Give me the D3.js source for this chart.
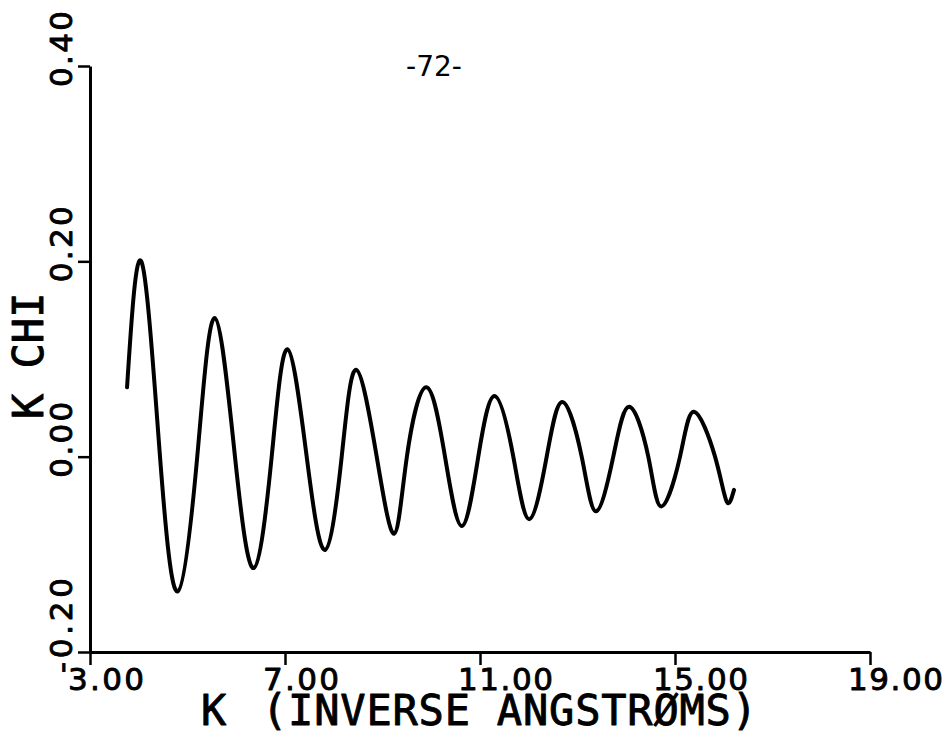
<!DOCTYPE html>
<html>
<head>
<meta charset="utf-8">
<script src="https://cdn.jsdelivr.net/npm/d3@7"></script>
<style>
  html, body { margin: 0; padding: 0; background: #fff; }
  svg { display: block; }
</style>
</head>
<body>
<svg id="chart" width="951" height="735"></svg>
<script>
// EXAFS signal k*chi(k): extrema and zero crossings of the oscillation
const kValues = [3.76, 4.06, 4.436, 4.80, 5.20, 5.56, 5.974, 6.36, 6.727, 7.05,
  7.445, 7.82, 8.163, 8.46, 8.881, 9.24, 9.50, 9.90, 10.282, 10.63,
  10.965, 11.30, 11.683, 12.01, 12.368, 12.69, 13.086, 13.38, 13.734, 14.06,
  14.452, 14.72, 15.103, 15.39, 15.821, 16.06, 16.21];
const kChi = [0.071, 0.199, 0, -0.138, 0, 0.142, 0, -0.114, 0, 0.110,
  0, -0.0955, 0, 0.089, 0, -0.079, 0, 0.071, 0, -0.071,
  0, 0.062, 0, -0.064, 0, 0.056, 0, -0.056, 0, 0.051,
  0, -0.051, 0, 0.046, 0, -0.046, -0.034];

const xTicks = [3, 7, 11, 15, 19];
const xTickLabels = ["3.00", "7.00", "11.00", "15.00", "19.00"];
const yTicks = [-0.2, 0, 0.2, 0.4];
const yTickLabels = ["-0.20", "0.00", "0.20", "0.40"];

const xTitle = "K";
const xTitleRest = "(INVERSE ANGSTRØMS)";
const yTitle = "K CHI";
const pageNumber = "-72-";

const svg = d3.select("#chart");
const x = d3.scaleLinear().domain([3, 19]).range([90, 870]);
const y = d3.scaleLinear().domain([-0.2, 0.4]).range([652, 66]);

const tickFont = "'DejaVu Sans', sans-serif";
const titleFont = "'DejaVu Sans Mono', monospace";
const cell = 19;

// Pen-plotter lettering is heavier than the regular face
function penText(sel, w) {
  return sel.attr("fill", "#000").attr("stroke", "#000")
    .attr("stroke-width", w).attr("stroke-linejoin", "round");
}

// Axes: line and outward ticks only, labels placed separately
const xAxis = svg.append("g")
  .attr("transform", `translate(0,${y(-0.2)})`)
  .call(d3.axisBottom(x).tickValues(xTicks).tickSizeInner(13).tickSizeOuter(0).tickFormat(""));
const yAxis = svg.append("g")
  .attr("transform", `translate(${x(3)},0)`)
  .call(d3.axisLeft(y).tickValues(yTicks).tickSizeInner(12).tickSizeOuter(0).tickFormat(""));
[xAxis, yAxis].forEach(g => {
  g.select(".domain").attr("stroke", "#000").attr("stroke-width", 3);
  g.selectAll(".tick line").attr("stroke", "#000").attr("stroke-width", 2.5);
});

// X tick labels
svg.append("g").selectAll("text")
  .data(xTicks)
  .join("text")
  .attr("x", d => x(d) - 22)
  .attr("y", 690)
  .attr("font-family", tickFont)
  .attr("font-size", 31)
  .attr("textLength", (d, i) => xTickLabels[i].length * cell)
  .attr("lengthAdjust", "spacing")
  .call(penText, 0.9)
  .text((d, i) => xTickLabels[i]);

// Y tick labels, rotated
svg.append("g").selectAll("text")
  .data(yTicks)
  .join("text")
  .attr("transform", d => `translate(72,${y(d) + 21}) rotate(-90)`)
  .attr("font-family", tickFont)
  .attr("font-size", 31)
  .attr("textLength", (d, i) => yTickLabels[i].length * cell)
  .attr("lengthAdjust", "spacing")
  .call(penText, 0.9)
  .text((d, i) => yTickLabels[i]);

// Axis titles
svg.append("text")
  .attr("x", 201).attr("y", 725)
  .attr("font-family", titleFont).attr("font-size", 42)
  .call(penText, 0.9)
  .text(xTitle);
svg.append("text")
  .attr("x", 262).attr("y", 725)
  .attr("font-family", titleFont).attr("font-size", 42)
  .attr("textLength", 495)
  .attr("lengthAdjust", "spacing")
  .call(penText, 0.9)
  .text(xTitleRest);
svg.append("text")
  .attr("transform", "translate(43,419) rotate(-90)")
  .attr("font-family", titleFont).attr("font-size", 42)
  .call(penText, 0.9)
  .text(yTitle);

// Page number
svg.append("text")
  .attr("x", 434).attr("y", 76)
  .attr("text-anchor", "middle")
  .attr("font-family", "'DejaVu Sans', sans-serif")
  .attr("font-size", 28)
  .attr("fill", "#000")
  .text(pageNumber);

// Curve
const pts = kValues.map((k, i) => [k, kChi[i]]);
const line = d3.line()
  .x(d => x(d[0]))
  .y(d => y(d[1]))
  .curve(d3.curveNatural);
svg.append("path")
  .datum(pts)
  .attr("d", line)
  .attr("fill", "none")
  .attr("stroke", "#000")
  .attr("stroke-width", 4)
  .attr("stroke-linejoin", "round")
  .attr("stroke-linecap", "round");
</script>
</body>
</html>
